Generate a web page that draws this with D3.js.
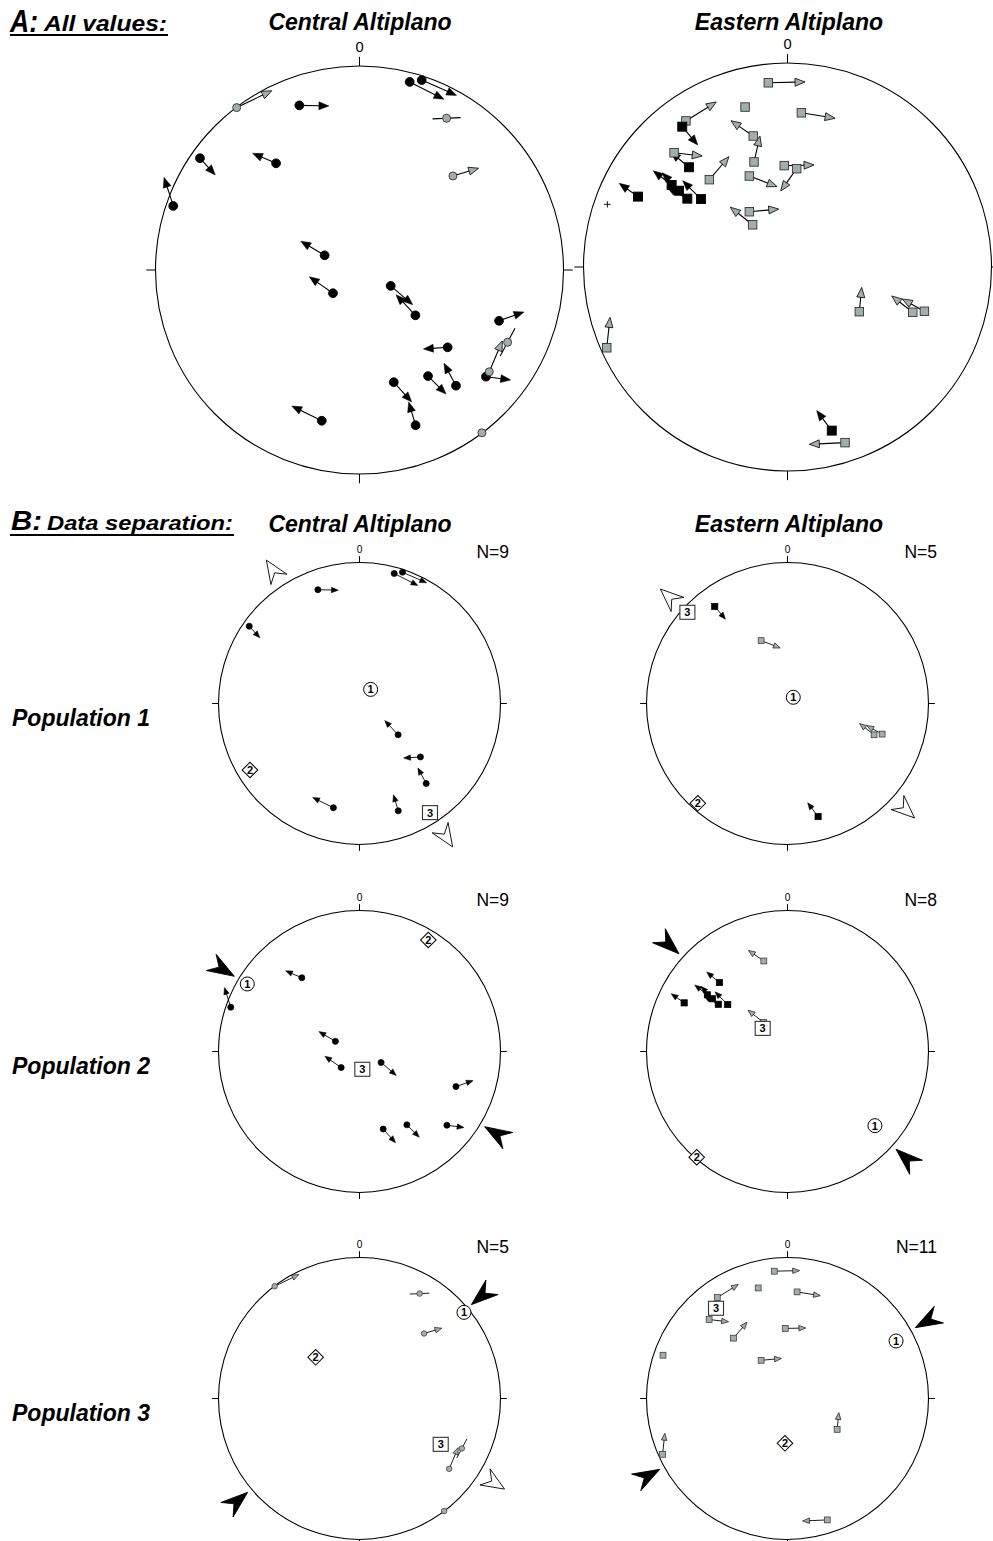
<!DOCTYPE html>
<html>
<head>
<meta charset="utf-8">
<script src="https://cdn.jsdelivr.net/npm/d3@7"></script>
<style>
  body { margin: 0; background: #fff; }
  svg { display: block; }
</style>
</head>
<body>
<svg id="fig" width="993" height="1541"></svg>
<script>
// ---------------------------------------------------------------------------
// Site observations on equal-area nets, in unit-circle coordinates
// (x = east, y = north). Each record:
// [x, y, tipX, tipY, fill ("k" black / "g" grey), style, population]
// style: "arrow" = slip arrow to tip, "axis" = undirected line, "none",
//        "cross" = shown as "+" on the all-values net
// ---------------------------------------------------------------------------
const centralSites = [
  [-0.602,  0.796, -0.430,  0.879, "g", "arrow", 3],
  [-0.295,  0.807, -0.150,  0.804, "k", "arrow", 1],
  [ 0.246,  0.922,  0.414,  0.837, "k", "arrow", 1],
  [ 0.305,  0.931,  0.476,  0.856, "k", "arrow", 1],
  [ 0.427,  0.744,  0.496,  0.747, "g", "axis",  3],
  [ 0.458,  0.461,  0.584,  0.499, "g", "arrow", 3],
  [-0.782,  0.548, -0.707,  0.466, "k", "arrow", 1],
  [-0.409,  0.523, -0.524,  0.572, "k", "arrow", 2],
  [-0.913,  0.314, -0.958,  0.454, "k", "arrow", 2],
  [-0.171,  0.072, -0.288,  0.141, "k", "arrow", 2],
  [-0.130, -0.114, -0.246, -0.033, "k", "arrow", 2],
  [ 0.153, -0.078,  0.261, -0.170, "k", "arrow", 2],
  [ 0.274, -0.222,  0.179, -0.121, "k", "arrow", 1],
  [ 0.684, -0.249,  0.806, -0.206, "k", "arrow", 2],
  [ 0.726, -0.354,  0.762, -0.286, "g", "axis",  3],
  [ 0.432, -0.379,  0.313, -0.387, "k", "arrow", 1],
  [ 0.620, -0.523,  0.741, -0.539, "k", "arrow", 2],
  [ 0.473, -0.567,  0.414, -0.457, "k", "arrow", 1],
  [ 0.336, -0.520,  0.424, -0.608, "k", "arrow", 2],
  [ 0.168, -0.550,  0.256, -0.647, "k", "arrow", 2],
  [ 0.275, -0.761,  0.241, -0.647, "k", "arrow", 1],
  [-0.185, -0.739, -0.332, -0.667, "k", "arrow", 1],
  [ 0.600, -0.798,  null,   null,  "g", "none",  3],
  [ 0.636, -0.499,  0.700, -0.348, "g", "arrow", 3]
];

const easternSites = [
  [-0.094,  0.903,  0.086,  0.907, "g", "arrow", 3],
  [-0.208,  0.784,  null,   null,  "g", "none",  3],
  [ 0.068,  0.756,  0.233,  0.729, "g", "arrow", 3],
  [-0.498,  0.716, -0.349,  0.809, "g", "arrow", 3],
  [-0.516,  0.688, -0.440,  0.598, "k", "arrow", 1],
  [-0.168,  0.642, -0.277,  0.717, "g", "arrow", 2],
  [-0.164,  0.515, -0.135,  0.642, "g", "arrow", 0],
  [-0.556,  0.560, -0.418,  0.544, "g", "arrow", 3],
  [-0.483,  0.489, -0.573,  0.564, "k", "arrow", 2],
  [-0.383,  0.428, -0.287,  0.541, "g", "arrow", 3],
  [-0.016,  0.497,  0.130,  0.500, "g", "arrow", 3],
  [ 0.045,  0.482, -0.033,  0.373, "g", "arrow", 0],
  [-0.187,  0.446, -0.051,  0.394, "g", "arrow", 1],
  [-0.733,  0.345, -0.825,  0.410, "k", "arrow", 2],
  [-0.568,  0.402, -0.658,  0.472, "k", "arrow", 2],
  [-0.532,  0.374, -0.614,  0.462, "k", "arrow", 2],
  [-0.491,  0.335, -0.592,  0.394, "k", "arrow", 2],
  [-0.424,  0.333, -0.514,  0.423, "k", "arrow", 2],
  [-0.187,  0.271, -0.043,  0.284, "g", "arrow", 3],
  [-0.171,  0.207, -0.280,  0.293, "g", "arrow", 2],
  [-0.883,  0.307,  null,   null,  "g", "cross", 3],
  [ 0.352, -0.219,  0.364, -0.100, "g", "arrow", 3],
  [ 0.614, -0.222,  0.511, -0.142, "g", "arrow", 1],
  [ 0.671, -0.217,  0.563, -0.157, "g", "arrow", 1],
  [-0.886, -0.396, -0.870, -0.247, "g", "arrow", 3],
  [ 0.217, -0.802,  0.143, -0.704, "k", "arrow", 1],
  [ 0.282, -0.861,  0.107, -0.869, "g", "arrow", 3]
];

// Principal stress axes per population (1, 2, 3), unit-circle positions
const sigma1Central = [[ 0.079,  0.100], [-0.796,  0.479], [ 0.741,  0.611]];
const sigma2Central = [[-0.777, -0.472], [ 0.488,  0.791], [-0.311,  0.292]];
const sigma3Central = [[ 0.500, -0.774], [ 0.020, -0.126], [ 0.576, -0.325]];
const sigma1Eastern = [[ 0.041,  0.044], [ 0.620, -0.526], [ 0.770,  0.408]];
const sigma2Eastern = [[-0.636, -0.708], [-0.644, -0.750], [-0.018, -0.318]];
const sigma3Eastern = [[-0.710,  0.647], [-0.176,  0.164], [-0.507,  0.640]];

// Horizontal stress arrows: [azimuth in degrees, "comp" (inward) | "ext" (outward)]
const stressCentral = [
  [[327, "ext"], [147, "ext"]],
  [[301, "comp"], [121, "comp"]],
  [[50, "comp"], [230, "comp"], [122, "ext"]]
];
const stressEastern = [
  [[312, "ext"], [132, "ext"]],
  [[312, "comp"], [132, "comp"]],
  [[61, "comp"], [241, "comp"]]
];

const countsCentral = [9, 9, 5];
const countsEastern = [5, 8, 11];
const populations = [1, 2, 3];
const regionTitles = ["Central Altiplano", "Eastern Altiplano"];
const northLabel = "0";

// ---------------------------------------------------------------------------
const FONT = '"Liberation Sans", Arial, Helvetica, sans-serif';
const GREY = "#a3adad";
const svg = d3.select("#fig");

function txt(x, y, str, size, o = {}) {
  const t = svg.append("text")
    .attr("x", x).attr("y", y)
    .attr("font-family", FONT)
    .attr("font-size", size)
    .attr("font-weight", o.weight || "normal")
    .attr("font-style", o.style || "normal")
    .attr("text-anchor", o.anchor || "start")
    .attr("fill", "#000")
    .text(str);
  if (o.len) t.attr("textLength", o.len).attr("lengthAdjust", "spacingAndGlyphs");
  return t;
}

// Equal-area net frame with N/E/S/W ticks and the "0" label
function netFrame(g, cx, cy, r) {
  const x = d3.scaleLinear().domain([-1, 1]).range([cx - r, cx + r]);
  const y = d3.scaleLinear().domain([-1, 1]).range([cy + r, cy - r]);
  const k = r / 204;
  g.append("circle").attr("cx", x(0)).attr("cy", y(0)).attr("r", x(1) - x(0))
    .attr("fill", "none").attr("stroke", "#000").attr("stroke-width", 1.1);
  const t = 0.045 * r;
  [[0, 1], [1, 0], [0, -1], [-1, 0]].forEach(([a, b]) => {
    g.append("line")
      .attr("x1", x(a)).attr("y1", y(b))
      .attr("x2", x(a) + a * t).attr("y2", y(b) - b * t)
      .attr("stroke", "#000").attr("stroke-width", 1);
  });
  g.append("text").attr("x", x(0)).attr("y", y(1) - 0.07 * r)
    .attr("text-anchor", "middle").attr("font-family", FONT)
    .attr("font-size", 0.072 * r).text(northLabel);
  return { x, y, k };
}

function drawSites(g, sites, sc, allValues, square) {
  const { x, y, k } = sc;
  const hl = 10 * k, hw = 8 * k, sw = 1.1 * Math.max(k, 0.8);
  const arrows = g.append("g");
  const marks = g.append("g");
  sites.forEach(s => {
    const [sx, sy, tx, ty, fill, style] = s;
    const px = x(sx), py = y(sy);
    if (style === "arrow" || style === "axis") {
      const qx = x(tx), qy = y(ty);
      const dx = qx - px, dy = qy - py, L = Math.hypot(dx, dy);
      const ux = dx / L, uy = dy / L;
      if (style === "axis") {
        arrows.append("line")
          .attr("x1", px - dx).attr("y1", py - dy)
          .attr("x2", qx).attr("y2", qy)
          .attr("stroke", "#000").attr("stroke-width", sw);
      } else {
        const bx = qx - ux * hl, by = qy - uy * hl;
        arrows.append("line")
          .attr("x1", px).attr("y1", py).attr("x2", bx + ux * 1).attr("y2", by + uy * 1)
          .attr("stroke", "#000").attr("stroke-width", sw);
        const pts = [[qx, qy],
          [bx - uy * hw / 2, by + ux * hw / 2],
          [bx + uy * hw / 2, by - ux * hw / 2]];
        arrows.append("path")
          .attr("d", d3.line()(pts) + "Z")
          .attr("fill", fill === "k" ? "#000" : GREY)
          .attr("stroke", "#000").attr("stroke-width", fill === "k" ? 0.5 : 0.8 * Math.max(k, 0.8))
          .attr("stroke-linejoin", "miter");
      }
    }
  });
  sites.forEach(s => {
    const [sx, sy, , , fill, style] = s;
    const px = x(sx), py = y(sy);
    if (style === "cross" && allValues) {
      const c = 3.2 * k;
      marks.append("path")
        .attr("d", `M${px - c},${py}H${px + c}M${px},${py - c}V${py + c}`)
        .attr("stroke", "#000").attr("stroke-width", 0.9);
      return;
    }
    if (square) {
      const a = (fill === "k" ? 9 : 8.5) * k;
      marks.append("rect")
        .attr("x", px - a / 2).attr("y", py - a / 2).attr("width", a).attr("height", a)
        .attr("fill", fill === "k" ? "#000" : GREY)
        .attr("stroke", fill === "k" ? "#000" : "#333").attr("stroke-width", 0.9 * Math.max(k, 0.8));
    } else {
      marks.append("circle")
        .attr("cx", px).attr("cy", py).attr("r", (fill === "k" ? 4.4 : 4) * k)
        .attr("fill", fill === "k" ? "#000" : GREY)
        .attr("stroke", fill === "k" ? "#000" : "#333").attr("stroke-width", 0.9 * Math.max(k, 0.8));
    }
  });
}

// Large arrowheads just outside the net showing horizontal stress directions
function stressHeads(g, sc, list) {
  const { x, y } = sc;
  const cx = x(0), cy = y(0), r = x(1) - x(0);
  list.forEach(([az, type]) => {
    const a = az * Math.PI / 180;
    const ux = Math.sin(a), uy = -Math.cos(a);
    const px = -uy, py = ux;
    let T, dir, len, wid;
    if (type === "comp") {
      T = r + 5; dir = 1; len = 27; wid = 19;
    } else {
      T = r + 30; dir = -1; len = 23; wid = 19;
    }
    const tx = cx + ux * T, ty = cy + uy * T;
    const bx = tx + dir * ux * len, by = ty + dir * uy * len;
    const nx = tx + dir * ux * len * 0.66, ny = ty + dir * uy * len * 0.66;
    const pts = [[tx, ty], [bx + px * wid / 2, by + py * wid / 2], [nx, ny],
      [bx - px * wid / 2, by - py * wid / 2]];
    g.append("path").attr("d", d3.line()(pts) + "Z")
      .attr("fill", type === "comp" ? "#000" : "#fff")
      .attr("stroke", "#000").attr("stroke-width", 0.9)
      .attr("stroke-linejoin", "miter");
  });
}

// Symbols for the principal stress axes: 1 circle, 2 diamond, 3 square
function axisSymbols(g, sc, s1, s2, s3) {
  const { x, y } = sc;
  const lab = (px, py, n) => g.append("text").attr("x", px).attr("y", py + 4)
    .attr("text-anchor", "middle").attr("font-family", FONT)
    .attr("font-weight", "bold").attr("font-size", 11).text(n);
  // sigma 2
  const [x2, y2] = [x(s2[0]), y(s2[1])];
  g.append("rect").attr("x", x2 - 5.5).attr("y", y2 - 5.5).attr("width", 11).attr("height", 11)
    .attr("transform", `rotate(45 ${x2} ${y2})`)
    .attr("fill", "#fff").attr("stroke", "#000").attr("stroke-width", 1);
  lab(x2, y2, "2");
  // sigma 3
  const [x3, y3] = [x(s3[0]), y(s3[1])];
  g.append("rect").attr("x", x3 - 7.5).attr("y", y3 - 7).attr("width", 15).attr("height", 14)
    .attr("fill", "#fff").attr("stroke", "#333").attr("stroke-width", 1.1);
  lab(x3, y3, "3");
  // sigma 1
  const [x1, y1] = [x(s1[0]), y(s1[1])];
  g.append("circle").attr("cx", x1).attr("cy", y1).attr("r", 7)
    .attr("fill", "#fff").attr("stroke", "#000").attr("stroke-width", 1);
  lab(x1, y1, "1");
}

// ---------------------------------------------------------------- Part A
txt(10, 32, "A:", 31, { weight: "bold", style: "italic", len: 28 });
txt(44, 31, "All values:", 22, { weight: "bold", style: "italic", len: 123 });
svg.append("line").attr("x1", 10).attr("x2", 168).attr("y1", 35).attr("y2", 35)
  .attr("stroke", "#000").attr("stroke-width", 1.8);
txt(360, 30, regionTitles[0], 23, { weight: "bold", style: "italic", anchor: "middle" });
txt(789, 30, regionTitles[1], 23, { weight: "bold", style: "italic", anchor: "middle" });

const gA1 = svg.append("g");
drawSites(gA1, centralSites, netFrame(gA1, 359.5, 270, 204), true, false);
const gA2 = svg.append("g");
drawSites(gA2, easternSites, netFrame(gA2, 787.5, 267, 204), true, true);

// ---------------------------------------------------------------- Part B
txt(11, 530, "B:", 27, { weight: "bold", style: "italic", len: 31 });
txt(47, 530, "Data separation:", 21, { weight: "bold", style: "italic", len: 186 });
svg.append("line").attr("x1", 10).attr("x2", 234).attr("y1", 535).attr("y2", 535)
  .attr("stroke", "#000").attr("stroke-width", 1.8);
txt(360, 532, regionTitles[0], 23, { weight: "bold", style: "italic", anchor: "middle" });
txt(789, 532, regionTitles[1], 23, { weight: "bold", style: "italic", anchor: "middle" });

const rowY = [703.5, 1051.5, 1398.5];
const rB = 141;
const regions = [
  { sites: centralSites, square: false, cx: 359.5, s1: sigma1Central, s2: sigma2Central,
    s3: sigma3Central, stress: stressCentral, counts: countsCentral, nx: 509 },
  { sites: easternSites, square: true, cx: 787.5, s1: sigma1Eastern, s2: sigma2Eastern,
    s3: sigma3Eastern, stress: stressEastern, counts: countsEastern, nx: 937 }
];

populations.forEach((p, i) => {
  const cy = rowY[i];
  txt(12, cy + 22, "Population " + p, 23, { weight: "bold", style: "italic" });
  regions.forEach(reg => {
    const g = svg.append("g");
    const sc = netFrame(g, reg.cx, cy, rB);
    const subset = reg.sites.filter(s => s[6] === p);
    drawSites(g, subset, sc, false, reg.square);
    stressHeads(g, sc, reg.stress[i]);
    axisSymbols(g, sc, reg.s1[i], reg.s2[i], reg.s3[i]);
    txt(reg.nx, cy - rB - 4.5, "N=" + reg.counts[i], 17.5, { anchor: "end" });
  });
});
</script>
</body>
</html>
